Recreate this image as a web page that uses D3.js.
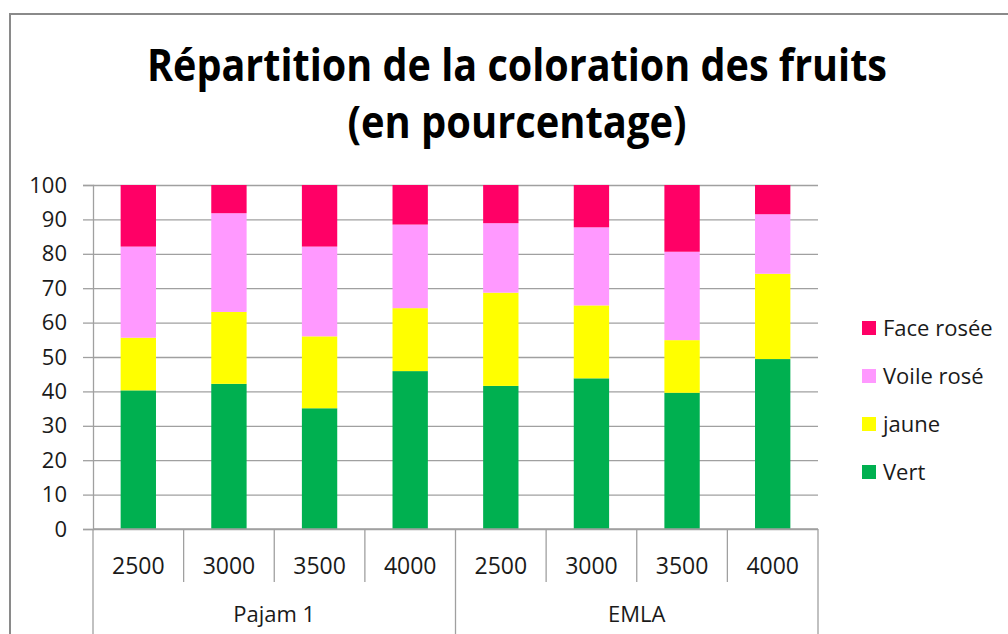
<!DOCTYPE html>
<html>
<head>
<meta charset="utf-8">
<script src="https://cdn.jsdelivr.net/npm/d3@7"></script>
<style>
  html, body { margin: 0; padding: 0; background: #fff; }
  svg { display: block; }
  text { font-family: "Open Sans", "Noto Sans", sans-serif; }
</style>
</head>
<body>
<svg id="chart" width="1008" height="634"></svg>
<script>
// ---- Data ----
const groups = ["Pajam 1", "EMLA"];
const doses = ["2500", "3000", "3500", "4000"];
const seriesNames = ["Vert", "jaune", "Voile rosé", "Face rosée"];
const vert  = [40.3, 42.2, 35.1, 45.9, 41.6, 43.8, 39.6, 49.4];
const jaune = [15.3, 20.9, 20.9, 18.3, 27.1, 21.2, 15.3, 24.8];
const voile = [26.5, 28.7, 26.1, 24.3, 20.2, 22.7, 25.7, 17.3];
const face  = [17.9,  8.2, 17.9, 11.5, 11.1, 12.3, 19.4,  8.5];
const yTicks = [0, 10, 20, 30, 40, 50, 60, 70, 80, 90, 100];
const colors = ["#00B050", "#FFFF00", "#FF99FF", "#FF0066"];
const titleLines = ["Répartition de la coloration des fruits", "(en pourcentage)"];

// ---- Build table ----
const cats = [];
groups.forEach(g => doses.forEach(d => cats.push({group: g, dose: d, key: g + "|" + d})));
const table = cats.map((c, i) => ({
  key: c.key, group: c.group, dose: c.dose,
  "Vert": vert[i], "jaune": jaune[i], "Voile rosé": voile[i], "Face rosée": face[i]
}));

const svg = d3.select("#chart");
const L = 93, R = 818, T = 185, B = 529;

const x = d3.scaleBand().domain(cats.map(c => c.key)).range([L, R])
  .paddingInner(0.61).paddingOuter(0.305);
const y = d3.scaleLinear().domain([0, 100]).range([B, T]);
const color = d3.scaleOrdinal().domain(seriesNames).range(colors);

// Outer chart border (extends past the viewport right/bottom)
svg.append("path")
  .attr("d", "M10,640 V14 H1012")
  .attr("fill", "none").attr("stroke", "#8a8a8a").attr("stroke-width", 2);

// Title
const title = svg.append("g");
title.append("text").attr("x", 517).attr("y", 81)
  .attr("text-anchor", "middle").attr("font-weight", "bold").attr("font-size", 44)
  .attr("textLength", 740).attr("lengthAdjust", "spacingAndGlyphs")
  .attr("fill", "#000").text(titleLines[0]);
title.append("text").attr("x", 517).attr("y", 138)
  .attr("text-anchor", "middle").attr("font-weight", "bold").attr("font-size", 44)
  .attr("textLength", 339).attr("lengthAdjust", "spacingAndGlyphs")
  .attr("fill", "#000").text(titleLines[1]);

// Gridlines
const grid = svg.append("g").attr("transform", `translate(${L},0)`)
  .call(d3.axisLeft(y).tickValues(yTicks).tickSize(-(R - L)).tickFormat(""));
grid.select(".domain").remove();
grid.selectAll("line").attr("stroke", "#a0a0a0").attr("stroke-width", 1.3);

// Bars
const stack = d3.stack().keys(seriesNames);
const layers = stack(table);
svg.append("g").selectAll("g").data(layers).join("g")
  .attr("fill", d => color(d.key))
  .selectAll("rect").data(d => d).join("rect")
  .attr("x", d => x(d.data.key))
  .attr("width", x.bandwidth())
  .attr("y", d => y(d[1]))
  .attr("height", d => y(d[0]) - y(d[1]));

// Y axis
const yAxis = svg.append("g").attr("transform", `translate(${L},0)`)
  .call(d3.axisLeft(y).tickValues(yTicks).tickSize(10).tickPadding(16));
yAxis.select(".domain").attr("stroke", "#a0a0a0").attr("stroke-width", 1.3);
yAxis.selectAll("line").attr("stroke", "#a0a0a0").attr("stroke-width", 1.3);
yAxis.selectAll("text").attr("font-size", 22).attr("fill", "#1a1a1a")
  .attr("font-family", "'Open Sans', sans-serif");

// X axis line
svg.append("line").attr("x1", L).attr("x2", R).attr("y1", B).attr("y2", B)
  .attr("stroke", "#a0a0a0").attr("stroke-width", 1.3);

// Category separators
const step = x.step();
const sepX = d3.range(cats.length + 1).map(i => L + i * step);
svg.append("g").selectAll("line").data(sepX).join("line")
  .attr("x1", d => d).attr("x2", d => d)
  .attr("y1", B)
  .attr("y2", (d, i) => (i % doses.length === 0) ? 640 : 582)
  .attr("stroke", "#a0a0a0").attr("stroke-width", 1.3);

// Category labels
svg.append("g").selectAll("text").data(cats).join("text")
  .attr("x", d => x(d.key) + x.bandwidth() / 2)
  .attr("y", 574)
  .attr("text-anchor", "middle").attr("font-size", 23).attr("fill", "#1a1a1a")
  .text(d => d.dose);

// Group labels
svg.append("g").selectAll("text").data(groups).join("text")
  .attr("x", (g, i) => L + (i * doses.length + doses.length / 2) * step)
  .attr("y", 622)
  .attr("text-anchor", "middle").attr("font-size", 22).attr("fill", "#1a1a1a")
  .text(d => d);

// Legend (reverse order, top = Face rosée)
const legendItems = seriesNames.slice().reverse();
const lg = svg.append("g").selectAll("g").data(legendItems).join("g")
  .attr("transform", (d, i) => `translate(862, ${328 + i * 48})`);
lg.append("rect").attr("x", 0).attr("y", -7).attr("width", 14).attr("height", 14)
  .attr("fill", d => color(d));
lg.append("text").attr("x", 21).attr("y", 8)
  .attr("font-size", 22).attr("fill", "#1a1a1a").text(d => d);
</script>
</body>
</html>
